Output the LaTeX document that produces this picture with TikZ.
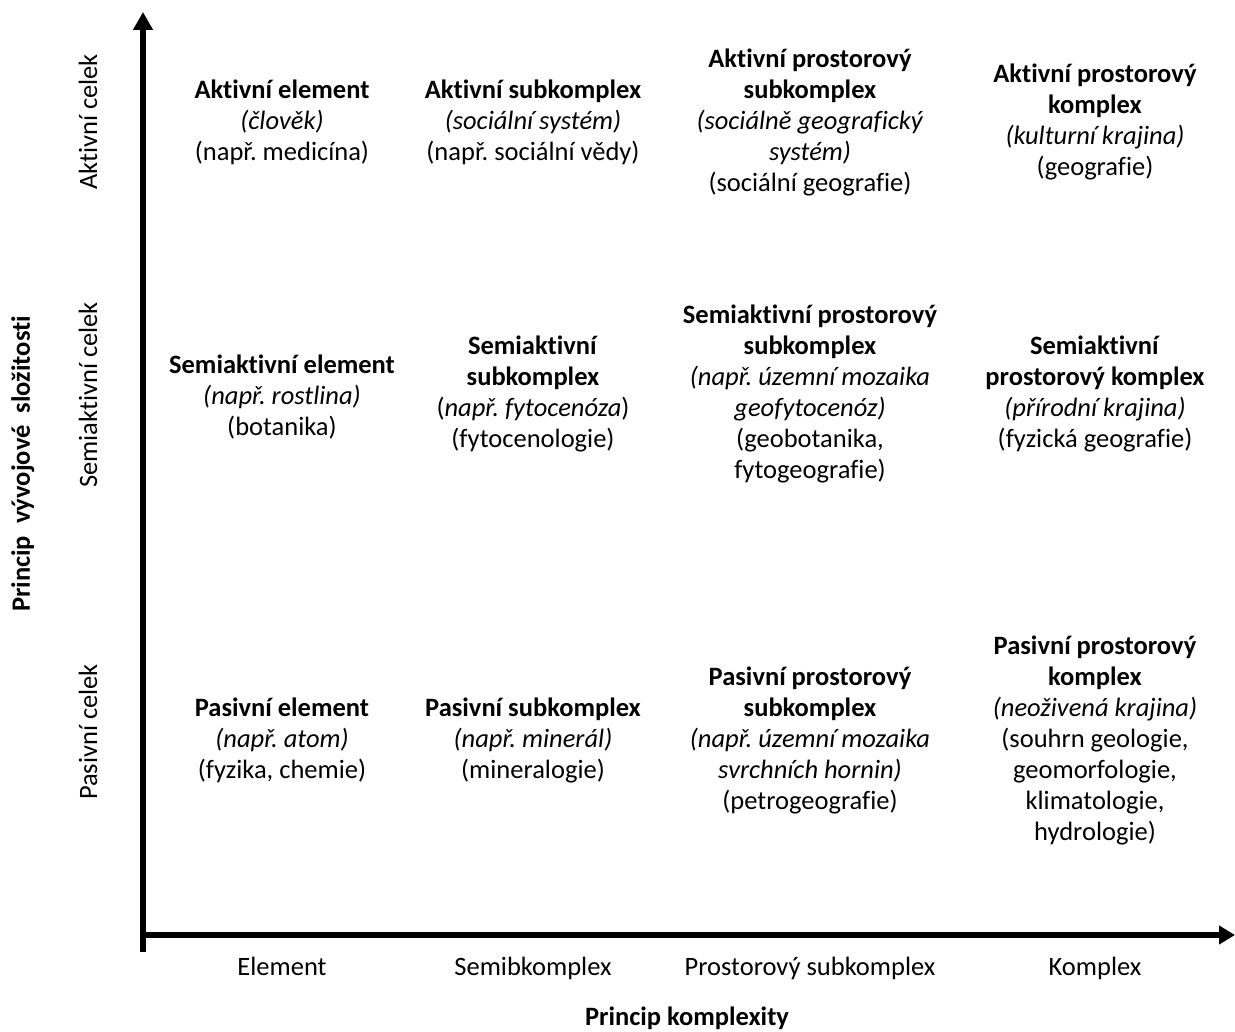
\documentclass[tikz,border=0pt]{standalone}
\usepackage{fontspec}
\setmainfont{Carlito}[Ligatures=NoCommon]
\frenchspacing
\usetikzlibrary{arrows.meta}
\begin{document}
\begin{tikzpicture}[x=1pt,y=-1pt,
  cell/.style={align=center,inner sep=0pt,font=\fontsize{26.5}{31}\selectfont},
  axislabel/.style={inner sep=0pt,anchor=base,font=\fontsize{26.5}{31}\selectfont},
  axistitle/.style={inner sep=0pt,anchor=base,font=\fontsize{26.5}{31}\selectfont\bfseries},
  axisline/.style={line width=6pt,black}]
\useasboundingbox (0,0) rectangle (1235,1032);

% axes
\coordinate (ybot) at (143,952);
\coordinate (ytop) at (143,12);
\coordinate (origin) at (140,935);
\coordinate (xend) at (1235,935);
\draw[axisline,-{Triangle[width=19pt,length=18pt]}] (ybot) -- (ytop);
\draw[axisline,-{Triangle[width=18pt,length=16pt]}] (origin) -- (xend);

% row 1: active
\node[cell] (a1) at (282,122) {\textbf{Aktivní element}\\\textit{(člověk)}\\(např. medicína)};
\node[cell] (a2) at (533,122) {\textbf{Aktivní subkomplex}\\\textit{(sociální systém)}\\(např. sociální vědy)};
\node[cell] (a3) at (810,122) {\textbf{Aktivní prostorový}\\\textbf{subkomplex}\\\textit{(sociálně geografický}\\\textit{systém)}\\(sociální geografie)};
\node[cell] (a4) at (1095,122) {\textbf{Aktivní prostorový}\\\textbf{komplex}\\\textit{(kulturní krajina)}\\(geografie)};

% row 2: semi-active
\node[cell] (s1) at (282,397) {\textbf{Semiaktivní element}\\\textit{(např. rostlina)}\\(botanika)};
\node[cell] (s2) at (533,394) {\textbf{Semiaktivní}\\\textbf{subkomplex}\\(\textit{např. fytocenóza})\\(fytocenologie)};
\node[cell] (s3) at (810,394) {\textbf{Semiaktivní prostorový}\\\textbf{subkomplex}\\\textit{(např. územní mozaika}\\\textit{geofytocenóz)}\\(geobotanika,\\fytogeografie)};
\node[cell] (s4) at (1095,394) {\textbf{Semiaktivní}\\\textbf{prostorový komplex}\\\textit{(přírodní krajina)}\\(fyzická geografie)};

% row 3: passive
\node[cell] (p1) at (282,740) {\textbf{Pasivní element}\\\textit{(např. atom)}\\(fyzika, chemie)};
\node[cell] (p2) at (533,740) {\textbf{Pasivní subkomplex}\\\textit{(např. minerál)}\\(mineralogie)};
\node[cell] (p3) at (810,740) {\textbf{Pasivní prostorový}\\\textbf{subkomplex}\\\textit{(např. územní mozaika}\\\textit{svrchních hornin)}\\(petrogeografie)};
\node[cell] (p4) at (1095,740) {\textbf{Pasivní prostorový}\\\textbf{komplex}\\\textit{(neoživená krajina)}\\(souhrn geologie,\\geomorfologie,\\klimatologie,\\hydrologie)};

% horizontal axis labels
\node[axislabel] (xl1) at (282,975) {Element};
\node[axislabel] (xl2) at (533,975) {Semibkomplex};
\node[axislabel] (xl3) at (810,975) {Prostorový subkomplex};
\node[axislabel] (xl4) at (1095,975) {Komplex};
\node[axistitle] (xt) at (687,1025) {Princip komplexity};

% vertical axis labels
\node[axislabel,rotate=90] (yl1) at (97,122) {Aktivní celek};
\node[axislabel,rotate=90] (yl2) at (97,395) {Semiaktivní celek};
\node[axislabel,rotate=90] (yl3) at (97,732) {Pasivní celek};
\node[axistitle,rotate=90] (yt) at (30,464) {Princip~ vývojové~ složitosti};
\end{tikzpicture}
\end{document}
